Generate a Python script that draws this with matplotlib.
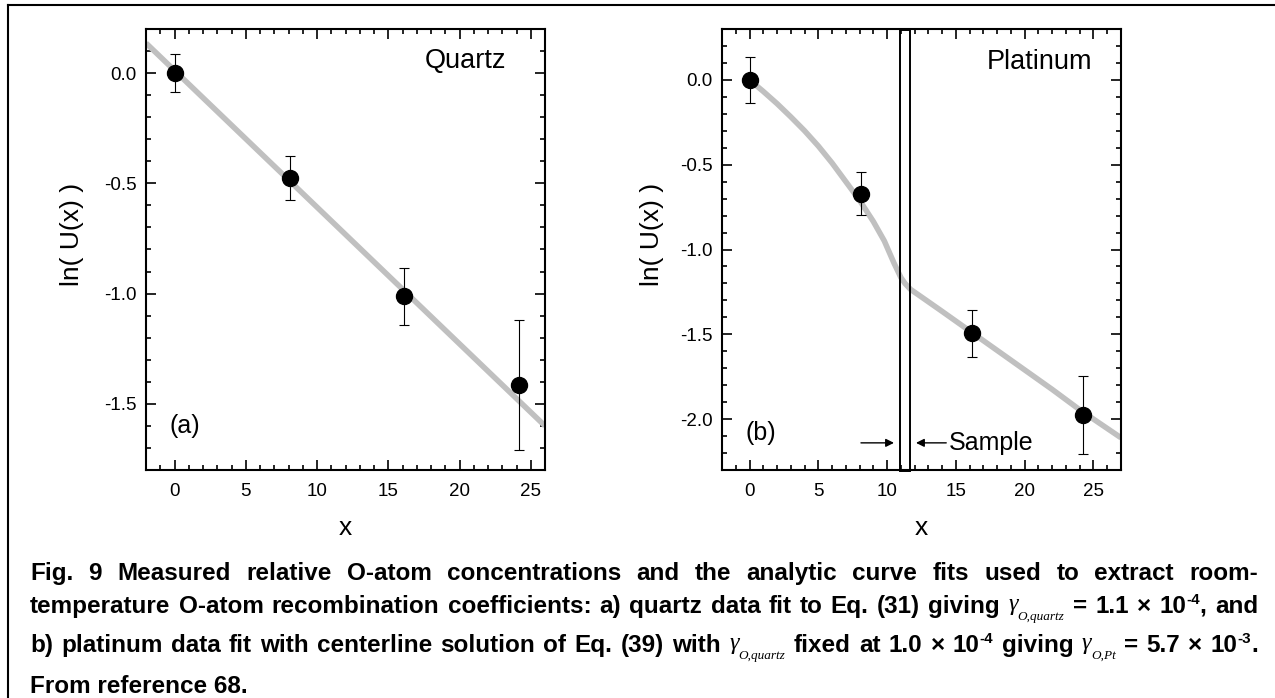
import matplotlib
matplotlib.use('Agg')
import matplotlib.pyplot as plt
from matplotlib.patches import Rectangle
from matplotlib.lines import Line2D
from matplotlib.ticker import MultipleLocator, FormatStrFormatter

plt.rcParams['font.family'] = ['Liberation Sans', 'DejaVu Sans']
plt.rcParams['axes.unicode_minus'] = False

# Quartz data (panel a)
quartz_x = [0.0, 8.1, 16.1, 24.2]
quartz_y = [0.0, -0.475, -1.013, -1.414]
quartz_err = [0.085, 0.10, 0.13, 0.295]
quartz_fit_x = [-2.0, 26.0]
quartz_fit_y = [0.136, -1.60]

# Platinum data (panel b)
pt_x = [0.0, 8.1, 16.15, 24.25]
pt_y = [0.0, -0.67, -1.495, -1.976]
pt_err = [0.135, 0.125, 0.14, 0.23]
pt_fit_x = [0, 1, 2, 3, 4, 5, 6, 7, 8, 9, 9.8, 10.5, 11.0, 11.3, 11.7,
            12.5, 14, 16, 18, 20, 22, 24, 27]
pt_fit_y = [0.0, -0.068, -0.14, -0.218, -0.3, -0.39, -0.49, -0.6, -0.71,
            -0.835, -0.95, -1.08, -1.165, -1.2, -1.235, -1.28, -1.365, -1.48,
            -1.595, -1.71, -1.825, -1.945, -2.11]
sample_x = [10.95, 11.7]

# caption, word by word: (text, style)
gamma_quartz = [('\u03b3', 'g'), ('O,quartz', 'sub')]
gamma_pt = [('\u03b3', 'g'), ('O,Pt', 'sub')]
cap_line1 = [[(w, 'b')] for w in
             'Fig. 9 Measured relative O-atom concentrations and the analytic '
             'curve fits used to extract room-'.split()]
cap_line2 = [[(w, 'b')] for w in
             'temperature O-atom recombination coefficients: a) quartz data '
             'fit to Eq. (31) giving'.split()] + \
            [gamma_quartz, [('=', 'b')], [('1.1', 'b')], [('\u00d7', 'b')],
             [('10', 'b'), ('-4', 'sup'), (',', 'b')], [('and', 'b')]]
cap_line3 = [[(w, 'b')] for w in
             'b) platinum data fit with centerline solution of Eq. (39) '
             'with'.split()] + \
            [gamma_quartz, [('fixed', 'b')], [('at', 'b')], [('1.0', 'b')],
             [('\u00d7', 'b')], [('10', 'b'), ('-4', 'sup')], [('giving', 'b')],
             gamma_pt, [('=', 'b')], [('5.7', 'b')], [('\u00d7', 'b')],
             [('10', 'b'), ('-3', 'sup'), ('.', 'b')]]
cap_line4 = 'From reference 68.'

W, H = 1275, 698
fig = plt.figure(figsize=(W / 100, H / 100), dpi=100)


def px_box(left, top, right, bottom):
    return [left / W, 1 - bottom / H, (right - left) / W, (bottom - top) / H]


def style_axes(ax, xlim, ylim):
    ax.set_xlim(xlim)
    ax.set_ylim(ylim)
    ax.xaxis.set_major_locator(MultipleLocator(5))
    ax.xaxis.set_minor_locator(MultipleLocator(1))
    ax.yaxis.set_major_locator(MultipleLocator(0.5))
    ax.yaxis.set_minor_locator(MultipleLocator(0.1))
    ax.yaxis.set_major_formatter(FormatStrFormatter('%.1f'))
    ax.tick_params(which='both', direction='in', top=True, right=True,
                   width=1.2, colors='black')
    ax.tick_params(which='major', length=7, labelsize=13.5)
    ax.tick_params(which='minor', length=3.5)
    ax.tick_params(axis='x', pad=9)
    ax.tick_params(axis='y', pad=7)
    for s in ax.spines.values():
        s.set_linewidth(1.5)


fit_kw = dict(color='#c0c0c0', lw=4, zorder=2, solid_capstyle='butt',
              solid_joinstyle='round')
err_kw = dict(fmt='o', color='black', ms=11.5, capsize=3.5, elinewidth=0.8,
              capthick=0.8, zorder=3)

# Panel (a): quartz
ax1 = fig.add_axes(px_box(146, 29, 545, 470))
style_axes(ax1, (-2, 26), (-1.8, 0.2))
ax1.plot(quartz_fit_x, quartz_fit_y, **fit_kw)
ax1.errorbar(quartz_x, quartz_y, yerr=quartz_err, **err_kw)
ax1.text(23.3, 0.053, 'Quartz', ha='right', va='center', fontsize=19.5)
ax1.text(-0.35, -1.6, '(a)', ha='left', va='center', fontsize=18)
ax1.set_xlabel('x', fontsize=19)
ax1.set_ylabel('ln( U(x) )', fontsize=19)
ax1.xaxis.set_label_coords(0.5, -0.105)
ax1.yaxis.set_label_coords(-0.155, 0.535)

# Panel (b): platinum
ax2 = fig.add_axes(px_box(722, 29, 1121, 470))
style_axes(ax2, (-2, 27), (-2.3, 0.3))
ax2.plot(pt_fit_x, pt_fit_y, **fit_kw)
ax2.errorbar(pt_x, pt_y, yerr=pt_err, **err_kw)
ax2.add_patch(Rectangle((sample_x[0], -2.305), sample_x[1] - sample_x[0], 2.6,
                        fill=False, edgecolor='black', lw=1.4, zorder=4,
                        clip_on=False))
arrow_kw = dict(arrowstyle='-|>', color='black', lw=1.0, mutation_scale=12,
                shrinkA=0, shrinkB=0)
ax2.annotate('', xy=(10.5, -2.14), xytext=(8.1, -2.14), arrowprops=arrow_kw)
ax2.annotate('Sample', xy=(12.1, -2.14), xytext=(14.5, -2.14), ha='left',
             va='center', fontsize=18, arrowprops=arrow_kw)
ax2.text(24.9, 0.108, 'Platinum', ha='right', va='center', fontsize=19.5)
ax2.text(-0.26, -2.08, '(b)', ha='left', va='center', fontsize=18)
ax2.set_xlabel('x', fontsize=19)
ax2.set_ylabel('ln( U(x) )', fontsize=19)
ax2.xaxis.set_label_coords(0.5, -0.105)
ax2.yaxis.set_label_coords(-0.145, 0.535)

# frame: left and top lines only
fig.add_artist(Line2D([8 / W, 8 / W], [1 - 5 / H, 0], color='black', lw=1.5,
                      transform=fig.transFigure))
fig.add_artist(Line2D([8 / W, 1], [1 - 5 / H, 1 - 5 / H], color='black',
                      lw=1.5, transform=fig.transFigure))

# justified caption
styles = {
    'b': (dict(fontsize=17.5, fontweight='bold',
               family=['Liberation Sans', 'DejaVu Sans']), 0),
    'g': (dict(fontsize=17.5, fontstyle='italic',
               family=['Liberation Serif', 'DejaVu Serif']), -3),
    'sub': (dict(fontsize=9.5, fontstyle='italic',
                 family=['Liberation Serif', 'DejaVu Serif']), 7),
    'sup': (dict(fontsize=11, fontweight='bold',
                 family=['Liberation Sans', 'DejaVu Sans']), -9),
}
renderer = fig.canvas.get_renderer()


def make_word(word):
    items = []
    for text, st in word:
        props, dy = styles[st]
        t = fig.text(0, 0, text, va='baseline', ha='left', **props)
        items.append((t, t.get_window_extent(renderer).width, dy))
    return items


def justify(line, baseline, left=30, right=1258):
    words = [make_word(w) for w in line]
    widths = [sum(i[1] for i in w) for w in words]
    gap = (right - left - sum(widths)) / (len(words) - 1)
    x = left
    for w, ww in zip(words, widths):
        xx = x
        for t, tw, dy in w:
            t.set_position((xx / W, 1 - (baseline + dy) / H))
            xx += tw
        x += ww + gap


justify(cap_line1, 580)
justify(cap_line2, 613)
justify(cap_line3, 652)
fig.text(30 / W, 1 - 693 / H, cap_line4, va='baseline', ha='left',
         **styles['b'][0])

fig.savefig('out.png', dpi=100)
